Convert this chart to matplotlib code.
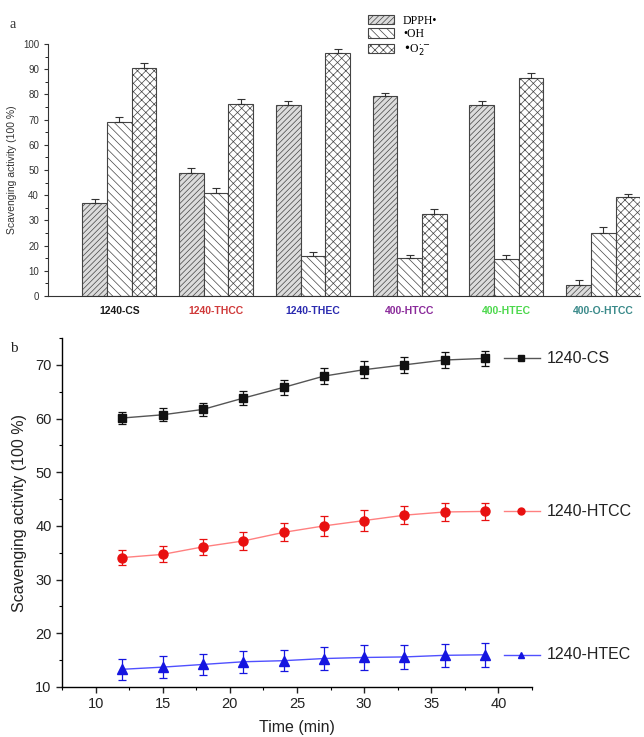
import matplotlib
matplotlib.use("Agg")
import matplotlib.pyplot as plt
import numpy as np
from matplotlib.lines import Line2D

# ---------------- data ----------------
samples = ["1240-CS", "1240-THCC", "1240-THEC", "400-HTCC", "400-HTEC", "400-O-HTCC"]
sample_colors = ["#1a1a1a", "#d03a3a", "#2b2bb0", "#8a2a9a", "#4cd84c", "#3a8a8a"]
dpph = [36.8, 48.9, 75.8, 79.2, 75.8, 4.3]
oh = [69.2, 41.0, 15.8, 14.9, 14.7, 25.0]
o2 = [90.5, 76.2, 96.4, 32.6, 86.4, 39.1]
dpph_err = [1.7, 1.8, 1.6, 1.5, 1.5, 2.1]
oh_err = [2.0, 1.9, 1.5, 1.4, 1.5, 2.5]
o2_err = [2.0, 1.9, 1.5, 2.0, 1.9, 1.4]

time = [12, 15, 18, 21, 24, 27, 30, 33, 36, 39]
cs = [60.1, 60.7, 61.7, 63.8, 65.8, 67.9, 69.1, 70.0, 70.9, 71.2]
cs_err = [1.2, 1.2, 1.2, 1.3, 1.4, 1.5, 1.6, 1.5, 1.4, 1.4]
htcc = [34.1, 34.7, 36.1, 37.2, 38.8, 40.0, 41.0, 42.0, 42.6, 42.7]
htcc_err = [1.4, 1.5, 1.5, 1.6, 1.7, 1.8, 1.9, 1.7, 1.6, 1.6]
htec = [13.3, 13.7, 14.2, 14.7, 14.9, 15.3, 15.5, 15.6, 15.9, 16.0]
htec_err = [2.0, 2.0, 2.0, 2.0, 2.0, 2.2, 2.4, 2.3, 2.2, 2.2]

plt.rcParams['font.family'] = ['Liberation Sans', 'DejaVu Sans']
plt.rcParams['hatch.linewidth'] = 0.5
plt.rcParams['hatch.color'] = '#555555'

fig = plt.figure(figsize=(6.44, 7.37), dpi=100)

# ---------------- panel a ----------------
ax1 = fig.add_axes([48/644, 1-296/737, (640-48)/644, (296-44)/737])
x = np.arange(len(samples))
w = 0.255
ekw = dict(elinewidth=0.8, capsize=3, capthick=0.8, ecolor="#333333")
b1 = ax1.bar(x - w, dpph, w, color="#dcdcdc", edgecolor="#444444", hatch="//////", lw=0.8,
             yerr=[np.zeros(6), dpph_err], error_kw=ekw)
b2 = ax1.bar(x, oh, w, color="white", edgecolor="#444444", hatch="\\\\\\\\", lw=0.8,
             yerr=[np.zeros(6), oh_err], error_kw=ekw)
b3 = ax1.bar(x + w, o2, w, color="white", edgecolor="#444444", hatch="xxxx", lw=0.8,
             yerr=[np.zeros(6), o2_err], error_kw=ekw)
ax1.set_xlim(-0.737, 5.38)
ax1.set_ylim(0, 100)
ax1.set_yticks(np.arange(0, 101, 10))
ax1.set_yticks(np.arange(0, 101, 5), minor=True)
ax1.tick_params(axis='y', labelsize=7, length=3, width=0.8, colors="#333333")
ax1.tick_params(axis='y', which='minor', length=2, width=0.6)
ax1.set_xticks(x)
ax1.set_xticklabels(samples, fontsize=7.5, fontweight='bold')
for lbl, c in zip(ax1.get_xticklabels(), sample_colors):
    lbl.set_color(c)
ax1.tick_params(axis='x', length=0, pad=7)
for s in ["top", "right"]:
    ax1.spines[s].set_visible(False)
ax1.spines["left"].set_color("#333333")
ax1.spines["bottom"].set_color("#333333")
ax1.set_ylabel("Scavenging activity (100 %)", fontsize=7.5, color="#333333", labelpad=4)
leg = ax1.legend(handles=[b1, b2, b3], labels=["DPPH•", "•OH", "•O$_2^{\\cdot-}$"],
                 loc="upper left", bbox_to_anchor=(357/644, 1-4/737),
                 bbox_transform=fig.transFigure, frameon=False,
                 handlelength=2.2, handleheight=0.9, labelspacing=0.15,
                 prop={'family': 'Liberation Serif', 'size': 8.5})
fig.text(10/644, 1-28/737, "a", fontsize=10, family="Liberation Serif", color="#333333")

# ---------------- panel b ----------------
ax2 = fig.add_axes([62/644, 1-687/737, (532-62)/644, (687-338)/737])
series = [
    (cs, cs_err, "#111111", "s", "1240-CS", 6, "#555555"),
    (htcc, htcc_err, "#e81010", "o", "1240-HTCC", 6.5, "#ff8080"),
    (htec, htec_err, "#1515e0", "^", "1240-HTEC", 6.5, "#5050ff"),
]
for vals, err, col, mk, name, ms, lc in series:
    ax2.plot(time, vals, color=lc, lw=1.0, zorder=2)
    ax2.errorbar(time, vals, yerr=err, fmt=mk, color=col, ms=ms, ecolor=col,
                 elinewidth=0.9, capsize=3, capthick=0.9, zorder=3)
    yl = vals[-1]
    ax2.add_line(Line2D([40.4, 43.1], [yl, yl], color=lc, lw=1.0, clip_on=False))
    ax2.add_line(Line2D([41.7], [yl], color=col, marker=mk, ms=5, clip_on=False))
    ax2.text(43.6, yl, name, fontsize=11.5, va="center", ha="left", color="#222222",
             clip_on=False)
ax2.set_xlim(7.5, 42.5)
ax2.set_ylim(10, 75)
ax2.set_xticks(np.arange(10, 41, 5))
ax2.set_xticks(np.arange(7.5, 42.6, 2.5), minor=True)
ax2.set_yticks(np.arange(10, 71, 10))
ax2.set_yticks(np.arange(10, 76, 5), minor=True)
ax2.tick_params(labelsize=10.5, length=4, width=1, colors="#222222")
ax2.tick_params(which='minor', length=2.5, width=0.8)
for s in ["top", "right"]:
    ax2.spines[s].set_visible(False)
ax2.spines["left"].set_linewidth(1.0)
ax2.spines["bottom"].set_linewidth(1.0)
ax2.set_ylabel("Scavenging activity (100 %)", fontsize=11.5, color="#222222", labelpad=6)
ax2.set_xlabel("Time (min)", fontsize=11.5, color="#222222", labelpad=6)
fig.text(10/644, 1-352/737, "b", fontsize=11, family="Liberation Serif", color="#222222")

fig.savefig("out.png", dpi=100)
